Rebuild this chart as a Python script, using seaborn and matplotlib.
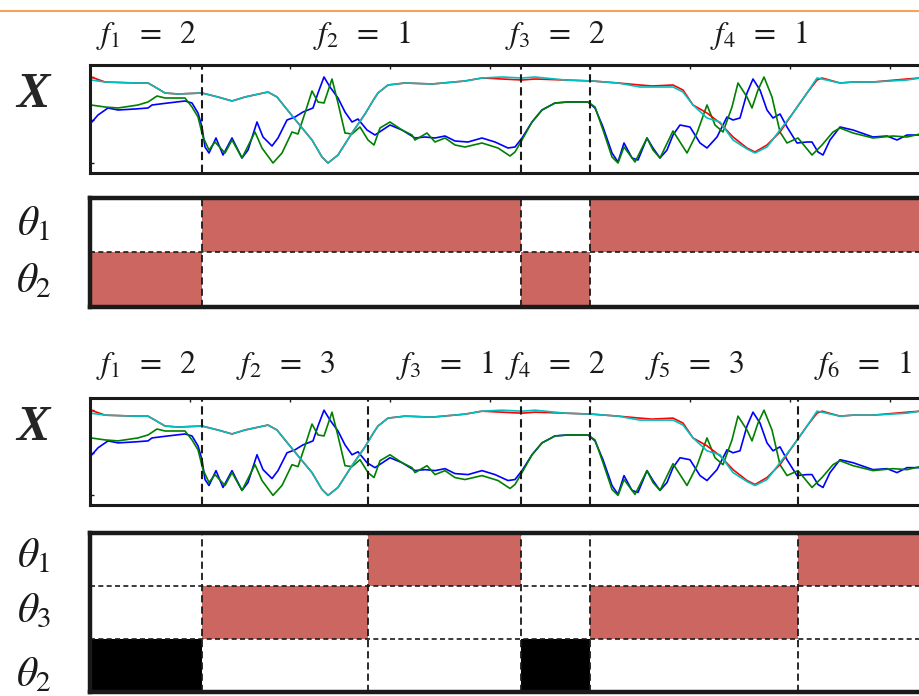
import numpy as np
import pandas as pd
import matplotlib
matplotlib.use("Agg")
import matplotlib.pyplot as plt
import seaborn as sns
from matplotlib.colors import ListedColormap
from matplotlib.lines import Line2D
from matplotlib.transforms import blended_transform_factory

# ---------------- data ----------------
rc_x = [1, 15, 45, 58, 65, 75, 88, 112, 128, 142, 155, 178, 187, 195, 208, 222, 232, 238, 248, 262,
        275, 284, 288, 298, 315, 342, 375, 392, 412, 432, 445, 475, 502, 528, 550, 562, 583, 593, 603, 617,
        630, 643, 657, 665, 677, 690, 703, 717, 727, 732, 750, 763, 783, 817, 830]
red_y = [86, 81, 80, 80, 76, 70, 69, 70, 66, 62, 66, 71, 66, 56, 40, 23, 6, 0, 8, 30,
         49, 64, 70, 78, 80, 79, 82, 85, 84, 83, 84, 83, 82, 80, 78, 77, 78, 73, 58, 50,
         40, 26, 15, 11, 18, 31, 50, 70, 83, 85, 80, 81, 81, 84, 85]
cyan_y = [83, 81, 80, 80, 76, 70, 69, 70, 66, 62, 66, 71, 66, 56, 40, 23, 6, 0, 8, 30,
          49, 64, 70, 78, 80, 79, 82, 85, 86, 85, 86, 83, 82, 80, 76, 76, 76, 71, 58, 45,
          41, 23, 14, 10, 16, 33, 50, 70, 85, 84, 80, 81, 81, 83, 85]
blue_x = [1, 8, 18, 28, 45, 58, 62, 78, 95, 102, 108, 112, 115, 119, 126, 133, 142, 152, 158, 167,
          173, 182, 188, 197, 205, 213, 223, 228, 234, 240, 248, 255, 262, 268, 277, 285, 300, 312, 325, 335,
          345, 355, 365, 378, 392, 405, 418, 425, 432, 442, 452, 465, 478, 498, 505, 513, 522, 528, 534, 542,
          548, 557, 563, 570, 577, 583, 590, 600, 610, 617, 627, 637, 643, 650, 657, 663, 670, 677, 683, 690,
          697, 707, 717, 722, 728, 733, 740, 750, 763, 783, 797, 807, 817, 830]
blue_y = [40, 48, 55, 53, 54, 55, 58, 60, 62, 60, 50, 36, 16, 10, 25, 8, 25, 5, 13, 41,
          26, 17, 25, 43, 46, 51, 55, 70, 86, 76, 65, 51, 41, 44, 33, 28, 38, 33, 25, 26,
          25, 27, 22, 21, 25, 21, 15, 16, 25, 41, 53, 60, 61, 61, 55, 36, 10, 1, 20, 5,
          3, 25, 15, 5, 13, 28, 38, 36, 20, 15, 26, 46, 43, 45, 70, 84, 73, 53, 45, 49,
          36, 20, 21, 21, 11, 8, 23, 36, 33, 26, 27, 23, 28, 28]
green_x = [1, 15, 28, 48, 58, 67, 75, 95, 102, 108, 113, 119, 125, 135, 142, 152, 165, 172, 183, 192,
           202, 208, 215, 222, 228, 234, 242, 248, 255, 262, 270, 278, 284, 290, 300, 312, 322, 325, 337, 345,
           355, 365, 375, 392, 408, 420, 425, 432, 442, 452, 465, 478, 498, 505, 513, 522, 528, 534, 545, 557,
           563, 570, 583, 597, 607, 617, 625, 633, 642, 648, 657, 662, 668, 674, 682, 690, 697, 708, 722, 732,
           743, 750, 763, 783, 803, 817, 830]
green_y = [58, 56, 55, 58, 61, 67, 65, 65, 56, 46, 26, 13, 21, 10, 23, 5, 31, 15, 0, 10,
           31, 29, 50, 72, 61, 60, 84, 60, 30, 29, 36, 23, 18, 35, 41, 33, 28, 23, 30, 21,
           25, 18, 16, 20, 15, 7, 11, 23, 41, 53, 60, 61, 61, 56, 33, 6, 0, 16, 1, 25,
           13, 5, 32, 10, 30, 58, 38, 31, 56, 80, 66, 55, 73, 86, 66, 31, 20, 25, 8, 18,
           31, 35, 30, 25, 27, 26, 29]

# segmentations (boundaries in samples) and the state of each segment
top_bounds = [0, 112, 431, 500, 838]
top_states = [2, 1, 2, 1]
top_rows = [1, 2]          # theta index of each row
bot_bounds = [0, 112, 278, 431, 500, 708, 838]
bot_states = [2, 3, 1, 2, 3, 1]
bot_rows = [1, 3, 2]

# ---------------- style ----------------
sns.set_theme(style="white")
plt.rcParams["mathtext.fontset"] = "stix"
plt.rcParams["font.family"] = ["Liberation Serif", "DejaVu Serif"]

RED_CELL = "#cc6660"
row_codes_top = [1, 1]
row_codes_bot = [1, 1, 2]
cell_cmap = ListedColormap(["white", RED_CELL, "black"])

W, H = 920, 696
fig = plt.figure(figsize=(W / 100, H / 100), dpi=100)


def fig_rect(left_px, top_px, right_px, bottom_px):
    return [left_px / W, 1 - bottom_px / H, (right_px - left_px) / W, (bottom_px - top_px) / H]


series = pd.concat([
    pd.DataFrame({"x": blue_x, "y": blue_y, "s": "blue"}),
    pd.DataFrame({"x": green_x, "y": green_y, "s": "green"}),
    pd.DataFrame({"x": rc_x, "y": red_y, "s": "red"}),
    pd.DataFrame({"x": rc_x, "y": cyan_y, "s": "cyan"}),
], ignore_index=True)
palette = {"blue": "#0000ff", "green": "#008000", "red": "#ff0000", "cyan": "#00c0c0"}

n_samples = top_bounds[-1]


def draw_signal(ax, bounds):
    sns.lineplot(data=series, x="x", y="y", hue="s", hue_order=["blue", "green", "red", "cyan"],
                 palette=palette, estimator=None, legend=False, lw=1.2, ax=ax)
    ax.set_xlim(0, n_samples)
    ax.set_ylim(-9.7, 98)
    ax.set_xticks(range(100, n_samples, 100))
    ax.set_yticks([0, 43, 86])
    ax.tick_params(direction="in", length=3, width=1, top=True, bottom=False, left=True, right=False,
                   labelleft=False, labelbottom=False, colors="k")
    ax.set_xlabel("")
    ax.set_ylabel("")
    for s in ax.spines.values():
        s.set_visible(True)
        s.set_color("k")
        s.set_linewidth(2.2)
    for b in bounds[1:-1]:
        ax.axvline(b, color="k", ls=(0, (4, 2.2)), lw=1.5)


def draw_states(ax, bounds, states, rows, codes):
    cols = np.arange(n_samples) + 0.5
    seg = np.searchsorted(bounds, cols) - 1
    st = np.asarray(states)[seg]
    M = np.zeros((len(rows), n_samples))
    for i, (r, c) in enumerate(zip(rows, codes)):
        M[i, st == r] = c
    sns.heatmap(M, ax=ax, cmap=cell_cmap, vmin=-0.5, vmax=2.5, cbar=False,
                xticklabels=False, yticklabels=False, linewidths=0, rasterized=True)
    ax.set_xlim(0, n_samples)
    ax.set_ylim(len(rows), 0)
    for r in range(1, len(rows)):
        ax.axhline(r, color="k", ls=(0, (3, 2)), lw=1.2)
    for b in bounds[1:-1]:
        ax.axvline(b, color="k", ls=(0, (4, 2.2)), lw=1.3)
    for s in ax.spines.values():
        s.set_visible(True)
        s.set_color("k")
        s.set_linewidth(3.2)
    ax.tick_params(left=False, bottom=False)


def seg_labels(ax, bounds, states, baseline_px):
    tr = blended_transform_factory(ax.transData, fig.transFigure)
    for i, s in enumerate(states):
        cx = 0.5 * (bounds[i] + bounds[i + 1])
        ax.text(cx, 1 - baseline_px / H, rf"$f_{{{i + 1}}}\;\;=\;\;{s}$", transform=tr,
                ha="center", va="baseline", fontsize=23, color="k", clip_on=False)


def row_labels(ax, rows, offsets):
    tr = blended_transform_factory(fig.transFigure, ax.transData)
    for i, r in enumerate(rows):
        ax.text(34 / W, i + 0.5 + offsets[i], rf"$\theta_{{{r}}}$", transform=tr, ha="center",
                va="center", fontsize=30, color="k", clip_on=False)


# top block
ax1 = fig.add_axes(fig_rect(90, 65, 928, 172.7))
draw_signal(ax1, top_bounds)
seg_labels(ax1, top_bounds, top_states, 43)
fig.text(33 / W, 1 - 95 / H, "X", fontsize=36, fontstyle="italic", fontweight="bold",
         ha="center", va="center")

ax2 = fig.add_axes(fig_rect(90, 198, 928, 306.5))
draw_states(ax2, top_bounds, top_states, top_rows, row_codes_top)
row_labels(ax2, top_rows, [0.0, 0.05])

# bottom block
ax3 = fig.add_axes(fig_rect(90, 398.3, 928, 505))
draw_signal(ax3, bot_bounds)
seg_labels(ax3, bot_bounds, bot_states, 373)
fig.text(33 / W, 1 - 428 / H, "X", fontsize=36, fontstyle="italic", fontweight="bold",
         ha="center", va="center")

ax4 = fig.add_axes(fig_rect(90, 532.7, 928, 691.7))
draw_states(ax4, bot_bounds, bot_states, bot_rows, row_codes_bot)
row_labels(ax4, bot_rows, [-0.05, 0.0, 0.2])

# thin orange rule at the very top
fig.add_artist(Line2D([0, 1], [1 - 10.5 / H] * 2, transform=fig.transFigure, color="#f5a35c", lw=1.5))

fig.savefig("out.png", dpi=100)
